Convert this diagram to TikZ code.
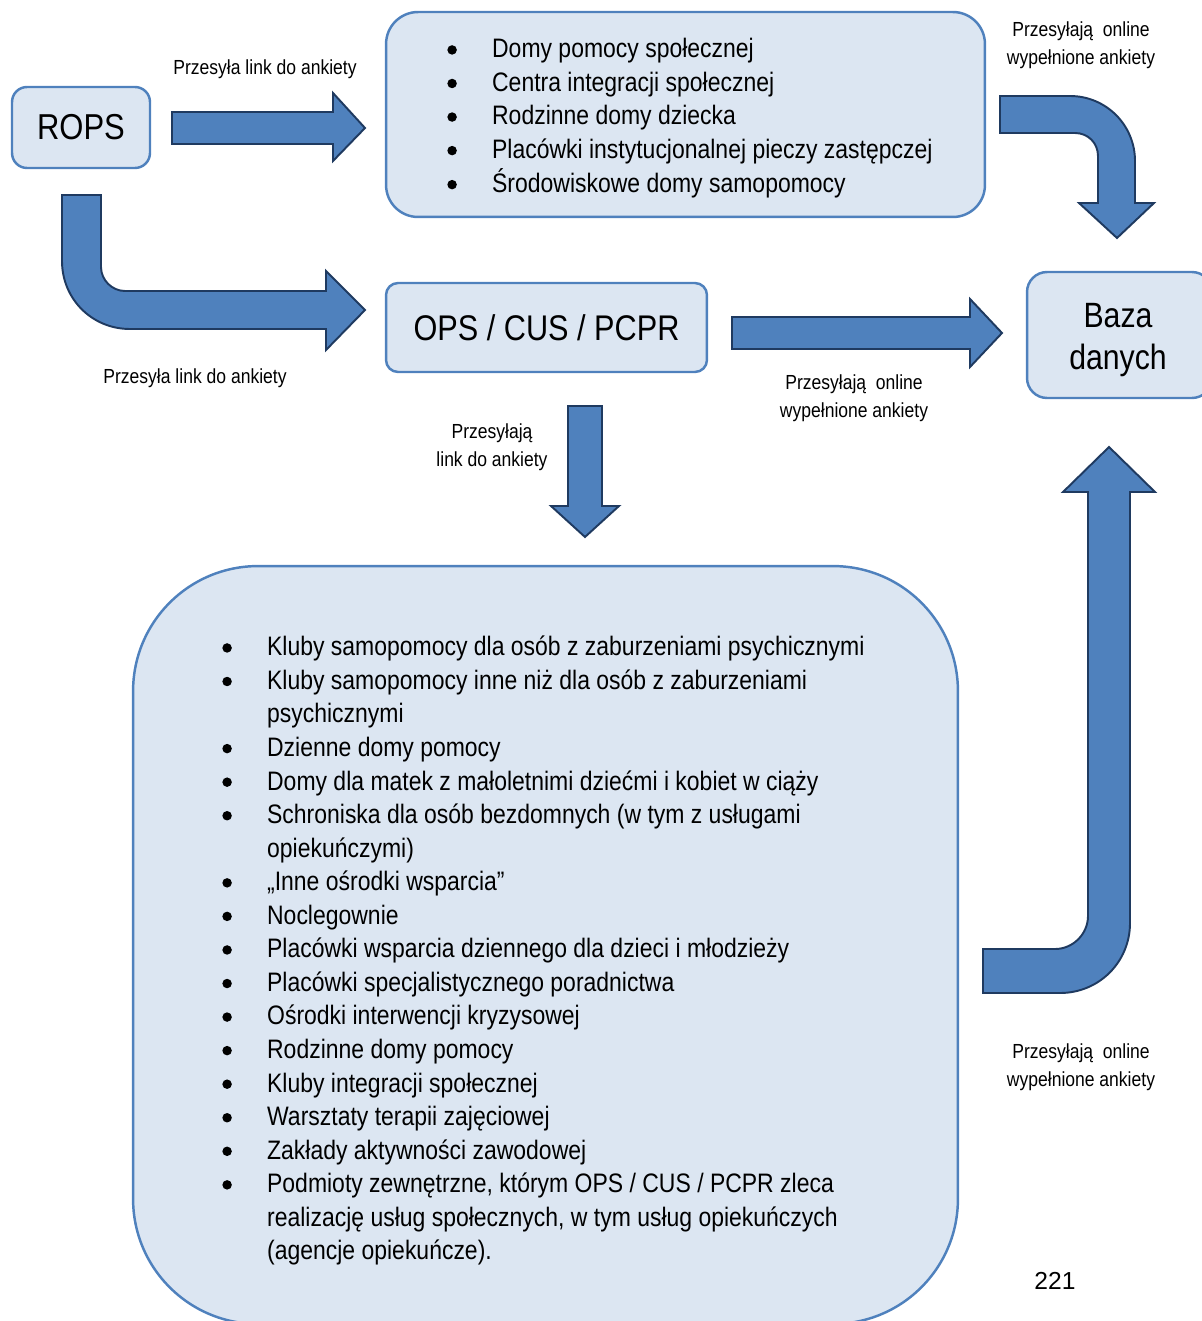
\documentclass[tikz,border=0pt]{standalone}
\usepackage{fontspec}
\setmainfont[FakeStretch=0.86]{Liberation Sans}
\newfontfamily\pagefont{Liberation Sans}
\usetikzlibrary{positioning}

\definecolor{boxfill}{HTML}{DCE6F2}
\definecolor{boxline}{HTML}{4F81BD}
\definecolor{arrfill}{HTML}{4F81BD}
\definecolor{arrline}{HTML}{1F3A60}

\newcommand{\listfont}{\fontsize{15.2}{19.1}\selectfont}
\newcommand{\bul}{\raisebox{1.8pt}{\tikz\fill (0,0) circle (2.7pt);}}

\tikzset{
  box/.style={draw=boxline, fill=boxfill, line width=1.4pt, inner sep=0pt},
  blockarrow/.style={draw=arrline, fill=arrfill, line width=1.1pt, line join=miter},
  note/.style={font=\fontsize{11.6}{15.9}\selectfont, align=center, inner sep=0pt},
  itemlist/.style={anchor=north west, inner sep=0pt, font=\listfont},
}

\begin{document}
\begin{tikzpicture}[x=0.02cm, y=-0.02cm]
    \clip (0,0) rectangle (1202,1321);

    % ===== boxes =====
    \node[box, rounded corners=0.3cm, minimum width=2.76cm, minimum height=1.62cm,
          font=\fontsize{20.5}{24}\selectfont] (rops) at (81,127.5) {ROPS};
    \node[box, rounded corners=0.64cm, minimum width=11.98cm, minimum height=4.1cm] (inst) at (685.5,114.5) {};
    \node[box, rounded corners=0.24cm, minimum width=6.42cm, minimum height=1.78cm,
          font=\fontsize{20.3}{24}\selectfont] (ops) at (546.5,327.5) {OPS / CUS / PCPR};
    \node[box, rounded corners=0.4cm, minimum width=3.7cm, minimum height=2.52cm] (baza) at (1119.5,335) {};
    \node[font=\fontsize{20}{23.8}\selectfont, align=center, inner sep=0pt] (bazatext) at (1118,340) {Baza\\danych};
    \node[box, rounded corners=2.5cm, minimum width=16.5cm, minimum height=15.16cm] (sup) at (545.5,945) {};

    % ===== lists =====
    \node[itemlist] (instlist) at (447,34) {%
      \begin{tabular}{@{}p{25.5pt}@{}l@{}}
        \bul & Domy pomocy społecznej\\
        \bul & Centra integracji społecznej\\
        \bul & Rodzinne domy dziecka\\
        \bul & Placówki instytucjonalnej pieczy zastępczej\\
        \bul & Środowiskowe domy samopomocy
      \end{tabular}};
    \node[itemlist] (suplist) at (222,632) {%
      \begin{tabular}{@{}p{25.5pt}@{}l@{}}
        \bul & Kluby samopomocy dla osób z zaburzeniami psychicznymi\\
        \bul & Kluby samopomocy inne niż dla osób z zaburzeniami\\
             & psychicznymi\\
        \bul & Dzienne domy pomocy\\
        \bul & Domy dla matek z małoletnimi dziećmi i kobiet w ciąży\\
        \bul & Schroniska dla osób bezdomnych (w tym z usługami\\
             & opiekuńczymi)\\
        \bul & „Inne ośrodki wsparcia”\\
        \bul & Noclegownie\\
        \bul & Placówki wsparcia dziennego dla dzieci i młodzieży\\
        \bul & Placówki specjalistycznego poradnictwa\\
        \bul & Ośrodki interwencji kryzysowej\\
        \bul & Rodzinne domy pomocy\\
        \bul & Kluby integracji społecznej\\
        \bul & Warsztaty terapii zajęciowej\\
        \bul & Zakłady aktywności zawodowej\\
        \bul & Podmioty zewnętrzne, którym OPS / CUS / PCPR zleca\\
             & realizację usług społecznych, w tym usług opiekuńczych\\
             & (agencje opiekuńcze).
      \end{tabular}};

    % ===== block arrows =====
    % ROPS -> institutions
    \draw[blockarrow] (172,112) -- (333,112) -- (333,93) -- (365,128) -- (333,161)
        -- (333,144) -- (172,144) -- cycle;
    % ROPS -> OPS (bent)
    \draw[blockarrow] (62,195) -- (101,195) -- (101,267)
        .. controls (101,280) and (112,291) .. (125,291) -- (326,291) -- (326,271)
        -- (365,310) -- (326,350) -- (326,329) -- (130,329)
        .. controls (92,329) and (62,299) .. (62,261) -- cycle;
    % institutions -> database (bent)
    \draw[blockarrow] (1000,96) -- (1070,96)
        .. controls (1106,96) and (1135,125) .. (1135,161) -- (1135,203) -- (1154,203)
        -- (1117,238) -- (1079,203) -- (1098,203) -- (1098,156)
        .. controls (1098,143) and (1088,133) .. (1075,133) -- (1000,133) -- cycle;
    % OPS -> database
    \draw[blockarrow] (732,317) -- (970,317) -- (970,299) -- (1002,333) -- (970,367)
        -- (970,349) -- (732,349) -- cycle;
    % OPS -> facilities
    \draw[blockarrow] (568,406) -- (602,406) -- (602,506) -- (619,506) -- (585,537)
        -- (551,506) -- (568,506) -- cycle;
    % facilities -> database (bent)
    \draw[blockarrow] (983,949) -- (1055,949)
        .. controls (1073,949) and (1088,934) .. (1088,916) -- (1088,492) -- (1063,492)
        -- (1109,447) -- (1155,492) -- (1130,492) -- (1130,923)
        .. controls (1130,962) and (1099,993) .. (1060,993) -- (983,993) -- cycle;

    % ===== labels =====
    \node[note] (l1) at (265,69) {Przesyła link do ankiety};
    \node[note] (l2) at (195,378) {Przesyła link do ankiety};
    \node[note] (l3) at (1081,45) {Przesyłają\ \ online\\wypełnione ankiety};
    \node[note] (l4) at (854,398) {Przesyłają\ \ online\\wypełnione ankiety};
    \node[note] (l5) at (492,447) {Przesyłają\\link do ankiety};
    \node[note] (l6) at (1081,1067) {Przesyłają\ \ online\\wypełnione ankiety};

    \node[font=\pagefont\fontsize{14}{17}\selectfont, inner sep=0pt] (page) at (1055,1281) {221};
\end{tikzpicture}
\end{document}
